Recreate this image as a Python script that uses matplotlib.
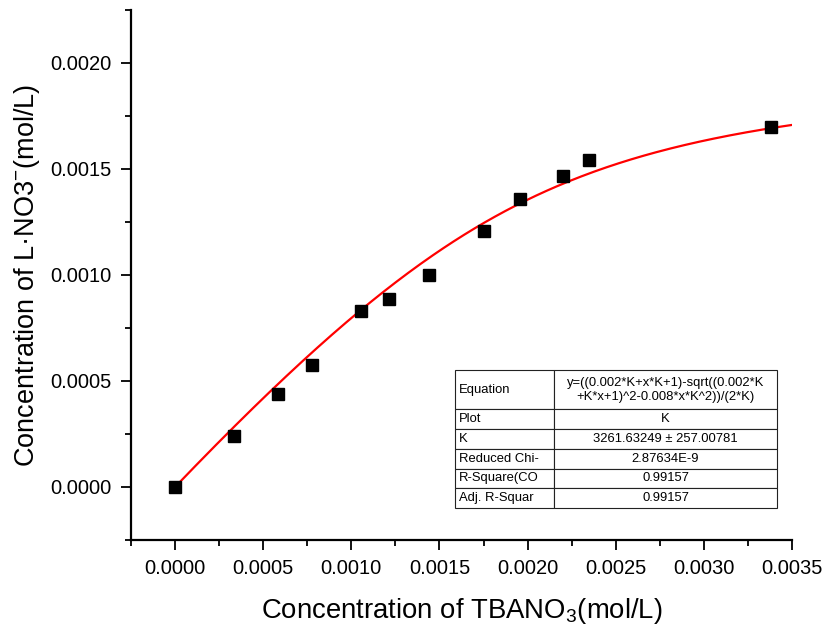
import numpy as np
import matplotlib
matplotlib.use("Agg")
import matplotlib.pyplot as plt
from matplotlib.ticker import MultipleLocator, FormatStrFormatter

plt.rcParams['font.family'] = ['Liberation Sans', 'DejaVu Sans']
plt.rcParams['mathtext.fontset'] = 'custom'
plt.rcParams['mathtext.rm'] = 'Liberation Sans'
plt.rcParams['mathtext.it'] = 'Liberation Sans:italic'

# measured points
x_tbano3 = [0.0, 0.000335, 0.000585, 0.000778, 0.001057, 0.001216, 0.001443,
            0.00175, 0.001955, 0.0022, 0.00235, 0.00338]
y_complex = [0.0, 0.00024, 0.000439, 0.000575, 0.00083, 0.000887, 0.001,
             0.001208, 0.001358, 0.001467, 0.001542, 0.001698]

# fitted binding constant
K = 3261.63249

table_labels = ["Equation", "Plot", "K", "Reduced Chi-", "R-Square(CO", "Adj. R-Squar"]
table_values = ["y=((0.002*K+x*K+1)-sqrt((0.002*K\n+K*x+1)^2-0.008*x*K^2))/(2*K)",
                "K", "3261.63249 \u00b1 257.00781", "2.87634E-9", "0.99157", "0.99157"]


# 1:1 binding isotherm from the table equation
def fit_curve(x, k):
    b = 0.002 * k + x * k + 1
    return (b - np.sqrt(b ** 2 - 0.008 * x * k ** 2)) / (2 * k)


fig = plt.figure(figsize=(8.27, 6.28), dpi=100)
ax = fig.add_axes([131 / 827, 1 - 540 / 628, 661 / 827, 530 / 628])

xs = np.linspace(0, 0.0035, 300)
ax.plot(xs, fit_curve(xs, K), color='red', lw=1.6, zorder=2)
ax.plot(x_tbano3, y_complex, 's', color='black', ms=9, zorder=3)

ax.set_xlim(-0.00025, 0.0035)
ax.set_ylim(-0.00025, 0.00225)
ax.xaxis.set_major_locator(MultipleLocator(0.0005))
ax.xaxis.set_minor_locator(MultipleLocator(0.00025))
ax.yaxis.set_major_locator(MultipleLocator(0.0005))
ax.yaxis.set_minor_locator(MultipleLocator(0.00025))
ax.xaxis.set_major_formatter(FormatStrFormatter('%.4f'))
ax.yaxis.set_major_formatter(FormatStrFormatter('%.4f'))

for s in ['top', 'right']:
    ax.spines[s].set_visible(False)
for s in ['left', 'bottom']:
    ax.spines[s].set_linewidth(1.6)
ax.tick_params(which='major', direction='out', length=7, width=1.3, labelsize=14.5, pad=7)
ax.tick_params(which='minor', direction='out', length=4, width=1.3)

ax.set_xlabel("Concentration of TBANO$_3$(mol/L)", fontsize=19.8, labelpad=13)
ax.set_ylabel("Concentration of L\u00b7NO3$^{-}$(mol/L)", fontsize=19.5, labelpad=6)

tbl = ax.table(cellText=[[a, b] for a, b in zip(table_labels, table_values)],
               colWidths=[99, 223], cellLoc='center',
               bbox=[(455 - 131) / 661, 32 / 530, 322 / 661, 138 / 530])
tbl.auto_set_font_size(False)
for (r, c), cell in tbl.get_celld().items():
    cell.set_height(2.0 if r == 0 else 1.0)
    cell.set_linewidth(0.8)
    cell.set_edgecolor('#222222')
    cell.get_text().set_fontsize(9.4)
    if c == 0:
        cell.get_text().set_ha('left')
        cell._loc = 'left'
        cell.PAD = 0.04

fig.savefig("out.png", dpi=100)
